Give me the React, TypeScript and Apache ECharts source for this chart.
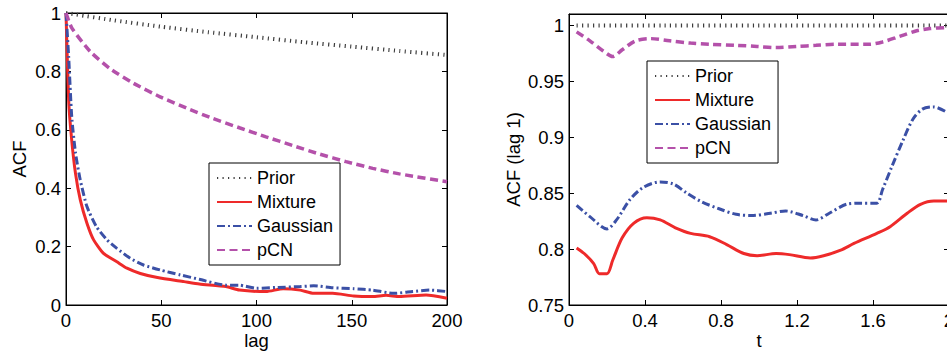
import { useEffect, useRef } from 'react';
import * as echarts from 'echarts';

// ---------- Left panel: ACF vs lag ----------
const priorLag = [0, 5, 25, 50, 75, 100, 125, 150, 175, 200];
const priorAcf = [1.0, 0.995, 0.975, 0.953, 0.934, 0.917, 0.9, 0.885, 0.87, 0.856];

const mixLag = [0, 1.4, 3, 5, 7.5, 11, 14.5, 19.7, 26.7, 32, 39, 48, 62, 70, 84, 91, 105, 114, 123, 130, 140, 151, 161, 168, 175, 189, 200];
const mixAcf = [1.0, 0.7, 0.565, 0.45, 0.36, 0.28, 0.223, 0.177, 0.148, 0.126, 0.108, 0.094, 0.08, 0.072, 0.063, 0.051, 0.046, 0.056, 0.051, 0.04, 0.04, 0.031, 0.029, 0.033, 0.029, 0.034, 0.023];

const gauLag = [0, 1.4, 3, 5, 7.5, 11, 16, 21.5, 26.7, 33.7, 40.7, 49.4, 60, 70, 84, 91, 100, 110, 123, 130, 140, 151, 161, 172, 182, 191, 200];
const gauAcf = [1.0, 0.85, 0.645, 0.52, 0.428, 0.337, 0.268, 0.223, 0.194, 0.16, 0.137, 0.12, 0.103, 0.088, 0.068, 0.068, 0.057, 0.06, 0.063, 0.066, 0.059, 0.056, 0.051, 0.04, 0.046, 0.051, 0.046];

const pcnLag = [0, 3.1, 12.7, 23, 35.5, 49.4, 63.4, 77, 91, 105, 119, 133, 147, 161, 175, 200];
const pcnAcf = [1.0, 0.948, 0.868, 0.81, 0.759, 0.713, 0.674, 0.639, 0.607, 0.576, 0.546, 0.517, 0.491, 0.468, 0.449, 0.422];

// ---------- Right panel: ACF (lag 1) vs t ----------
const priorT = [0.04, 0.5, 1.0, 1.5, 2.0];
const priorLag1 = [0.9997, 0.9997, 0.9997, 0.9997, 0.9997];

const mixT = [0.04, 0.08, 0.13, 0.16, 0.2, 0.23, 0.28, 0.34, 0.41, 0.48, 0.56, 0.64, 0.74, 0.83, 0.92, 0.99, 1.09, 1.16, 1.27, 1.34, 1.43, 1.5, 1.62, 1.69, 1.78, 1.85, 1.92, 2.0];
const mixLag1 = [0.801, 0.796, 0.787, 0.778, 0.778, 0.79, 0.81, 0.823, 0.828, 0.826, 0.819, 0.814, 0.811, 0.804, 0.796, 0.794, 0.796, 0.795, 0.792, 0.794, 0.799, 0.805, 0.814, 0.82, 0.832, 0.84, 0.843, 0.843];

const gauT = [0.04, 0.11, 0.2, 0.25, 0.32, 0.39, 0.48, 0.55, 0.62, 0.7, 0.79, 0.88, 0.97, 1.06, 1.14, 1.23, 1.3, 1.37, 1.46, 1.53, 1.62, 1.65, 1.7, 1.76, 1.81, 1.86, 1.92, 2.0];
const gauLag1 = [0.839, 0.829, 0.818, 0.826, 0.844, 0.855, 0.86, 0.858, 0.85, 0.842, 0.836, 0.831, 0.83, 0.832, 0.834, 0.83, 0.826, 0.832, 0.84, 0.841, 0.841, 0.853, 0.874, 0.898, 0.916, 0.925, 0.927, 0.921];

const pcnT = [0.04, 0.11, 0.18, 0.23, 0.28, 0.35, 0.43, 0.53, 0.64, 0.74, 0.88, 0.99, 1.09, 1.2, 1.3, 1.41, 1.58, 1.65, 1.74, 1.83, 1.9, 2.0];
const pcnLag1 = [0.994, 0.986, 0.977, 0.972, 0.978, 0.986, 0.988, 0.986, 0.984, 0.983, 0.982, 0.981, 0.98, 0.981, 0.982, 0.983, 0.983, 0.985, 0.99, 0.995, 0.997, 0.998];

const legendNames = ['Prior', 'Mixture', 'Gaussian', 'pCN'];

const FONT = '"Liberation Sans", Arial, Helvetica, sans-serif';
const FS = 18.5;

const zip = (xs: number[], ys: number[]) => xs.map((x, i) => [x, ys[i]]);

const styles: Record<string, any> = {
  Prior: { color: '#3c3c3c', width: 4, type: [1.2, 4.3] },
  Mixture: { color: '#ee2a2a', width: 3, type: 'solid' },
  Gaussian: { color: '#3b50a6', width: 3, type: [8, 3, 2, 3] },
  pCN: { color: '#b451aa', width: 3.5, type: [8, 4.5] },
};

function mkSeries(name: string, data: number[][], xi: number, yi: number, smooth: number) {
  const s = styles[name];
  return {
    name,
    type: 'line',
    xAxisIndex: xi,
    yAxisIndex: yi,
    data,
    symbol: 'none',
    showSymbol: false,
    smooth,
    color: s.color,
    itemStyle: { color: s.color },
    lineStyle: { color: s.color, width: s.width, type: s.type, cap: 'butt' },
    emphasis: { disabled: true },
  };
}

const tickStyle = { show: true, inside: true, length: 5, lineStyle: { color: '#000', width: 1 } };
const lineStyleAx = { show: true, onZero: false, lineStyle: { color: '#000', width: 1 } };
const labelStyle = { color: '#000', fontSize: FS, fontFamily: FONT };
const nameStyle = { color: '#000', fontSize: FS, fontFamily: FONT };

function legendCfg(left: number, top: number) {
  return {
    orient: 'vertical',
    left,
    top,
    itemWidth: 35,
    itemHeight: 14,
    itemGap: 4,
    padding: [5, 7, 5, 7],
    borderColor: '#000',
    borderWidth: 1,
    backgroundColor: '#fff',
    selectedMode: false,
    itemStyle: { opacity: 0 },
    textStyle: { color: '#000', fontSize: 18, fontFamily: FONT, lineHeight: 20 },
    data: legendNames,
  };
}

export default function App() {
  const ref = useRef<HTMLDivElement>(null);
  useEffect(() => {
    if (!ref.current) return;
    const chart = echarts.init(ref.current, undefined, { renderer: 'svg' });
    const option: any = {
      animation: false,
      backgroundColor: '#fff',
      grid: [
        { left: 66, right: 500, top: 13, bottom: 47, show: true, borderColor: '#000', borderWidth: 1, backgroundColor: '#fff', outerBoundsMode: 'none', containLabel: false },
        { left: 569, right: -2, top: 14, bottom: 47, show: true, borderColor: '#000', borderWidth: 1, backgroundColor: '#fff', outerBoundsMode: 'none', containLabel: false },
      ],
      xAxis: [
        {
          gridIndex: 0, type: 'value', position: 'bottom', min: 0, max: 200, interval: 50,
          name: 'lag', nameLocation: 'middle', nameGap: 26, nameMoveOverlap: false, nameTextStyle: nameStyle,
          axisLine: lineStyleAx, axisTick: tickStyle, axisLabel: { ...labelStyle, margin: 6 }, splitLine: { show: false },
        },
        {
          gridIndex: 0, type: 'value', position: 'top', min: 0, max: 200, interval: 50,
          axisLine: lineStyleAx, axisTick: tickStyle, axisLabel: { show: false }, splitLine: { show: false },
        },
        {
          gridIndex: 1, type: 'value', position: 'bottom', min: 0, max: 2, interval: 0.4,
          name: 't', nameLocation: 'middle', nameGap: 26, nameMoveOverlap: false, nameTextStyle: nameStyle,
          axisLine: lineStyleAx, axisTick: tickStyle, axisLabel: { ...labelStyle, margin: 6 }, splitLine: { show: false },
        },
        {
          gridIndex: 1, type: 'value', position: 'top', min: 0, max: 2, interval: 0.4,
          axisLine: lineStyleAx, axisTick: tickStyle, axisLabel: { show: false }, splitLine: { show: false },
        },
      ],
      yAxis: [
        {
          gridIndex: 0, type: 'value', position: 'left', min: 0, max: 1, interval: 0.2,
          name: 'ACF', nameLocation: 'middle', nameGap: 37, nameMoveOverlap: false, nameTextStyle: nameStyle,
          axisLine: lineStyleAx, axisTick: tickStyle, axisLabel: { ...labelStyle, margin: 5 }, splitLine: { show: false },
        },
        {
          gridIndex: 0, type: 'value', position: 'right', min: 0, max: 1, interval: 0.2,
          axisLine: lineStyleAx, axisTick: tickStyle, axisLabel: { show: false }, splitLine: { show: false },
        },
        {
          gridIndex: 1, type: 'value', position: 'left', min: 0.75, max: 1.01, interval: 0.05,
          name: 'ACF (lag 1)', nameLocation: 'middle', nameGap: 46, nameMoveOverlap: false, nameTextStyle: nameStyle,
          axisLine: lineStyleAx, axisTick: tickStyle,
          axisLabel: { ...labelStyle, margin: 5, showMaxLabel: false },
          splitLine: { show: false },
        },
        {
          gridIndex: 1, type: 'value', position: 'right', min: 0.75, max: 1.01, interval: 0.05,
          axisLine: lineStyleAx, axisTick: tickStyle, axisLabel: { show: false }, splitLine: { show: false },
        },
      ],
      legend: [legendCfg(209, 163), legendCfg(647, 61)],
      series: [
        mkSeries('Prior', zip(priorLag, priorAcf), 0, 0, 0.2),
        mkSeries('Mixture', zip(mixLag, mixAcf), 0, 0, 0.2),
        mkSeries('Gaussian', zip(gauLag, gauAcf), 0, 0, 0.2),
        mkSeries('pCN', zip(pcnLag, pcnAcf), 0, 0, 0.2),
        mkSeries('Prior', zip(priorT, priorLag1), 2, 2, 0.3),
        mkSeries('Mixture', zip(mixT, mixLag1), 2, 2, 0.3),
        mkSeries('Gaussian', zip(gauT, gauLag1), 2, 2, 0.3),
        mkSeries('pCN', zip(pcnT, pcnLag1), 2, 2, 0.3),
      ],
    };
    chart.setOption(option);
    return () => chart.dispose();
  }, []);
  return (
    <div
      ref={ref}
      style={{ position: 'fixed', left: 0, top: 0, width: 947, height: 352, background: '#fff' }}
    />
  );
}
